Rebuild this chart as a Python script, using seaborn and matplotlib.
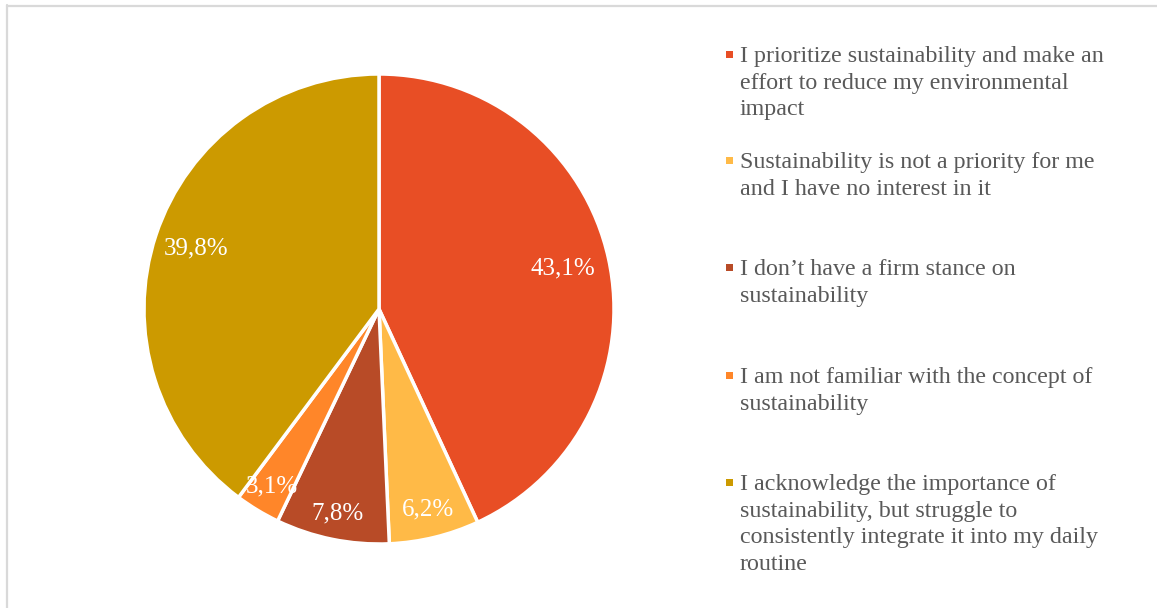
import numpy as np
import matplotlib
matplotlib.use("Agg")
import matplotlib.pyplot as plt
import seaborn as sns
from matplotlib.lines import Line2D
from matplotlib.patches import Rectangle

sns.set_theme(style="white")
plt.rcParams["font.family"] = ["Liberation Serif", "DejaVu Serif"]

# Survey answers and their shares (%)
categories = [
    "I prioritize sustainability and make an\neffort to reduce my environmental\nimpact",
    "Sustainability is not a priority for me\nand I have no interest in it",
    "I don\u2019t have a firm stance on\nsustainability",
    "I am not familiar with the concept of\nsustainability",
    "I acknowledge the importance of\nsustainability, but struggle to\nconsistently integrate it into my daily\nroutine",
]
shares = [43.1, 6.2, 7.8, 3.1, 39.8]
colors = ["#E84E25", "#FFBA47", "#B84B27", "#FF8629", "#CC9A00"]
label_radius = [0.80, 0.88, 0.89, 0.88, 0.82]

W, H = 1157, 608
fig = plt.figure(figsize=(W / 100, H / 100), dpi=100)
fig.patch.set_facecolor("white")

# thin frame along the top and left edges
fig.add_artist(Line2D([6.5 / W, 6.5 / W], [0, 1 - 5 / H], transform=fig.transFigure,
                      color="#D9D9D9", lw=1.6))
fig.add_artist(Line2D([6.5 / W, 1], [1 - 5.5 / H, 1 - 5.5 / H], transform=fig.transFigure,
                      color="#D9D9D9", lw=1.6))

cx, cy, r = 379, 309, 235
ax = fig.add_axes([(cx - r) / W, (H - cy - r) / H, 2 * r / W, 2 * r / H])
wedges, _ = ax.pie(shares, colors=colors, startangle=90, counterclock=False,
                   radius=1.0, wedgeprops=dict(edgecolor="white", linewidth=2.5))
ax.set_xlim(-1, 1)
ax.set_ylim(-1, 1)
ax.set_aspect("equal")
ax.axis("off")

# percentage labels inside slices
cum = 0.0
for val, d in zip(shares, label_radius):
    mid = np.deg2rad(90 - (cum + val / 2) * 3.6)
    cum += val
    ax.text(d * np.cos(mid), d * np.sin(mid), f"{val:.1f}%".replace(".", ","),
            ha="center", va="center", color="white", fontsize=18)

# legend drawn as marker + wrapped text block
first_baselines = [62, 168, 275, 383, 490]
line_step = 26.7
for label, col, y0 in zip(categories, colors, first_baselines):
    fig.add_artist(Rectangle(((725.7) / W, 1 - (y0 - 4.5) / H), 7 / W, 7 / H,
                             transform=fig.transFigure, facecolor=col, edgecolor="none"))
    for i, line in enumerate(label.split("\n")):
        fig.text(740 / W, 1 - (y0 + i * line_step) / H, line, ha="left", va="baseline",
                 color="#595959", fontsize=17.3)

fig.savefig("out.png", dpi=100, facecolor="white")
